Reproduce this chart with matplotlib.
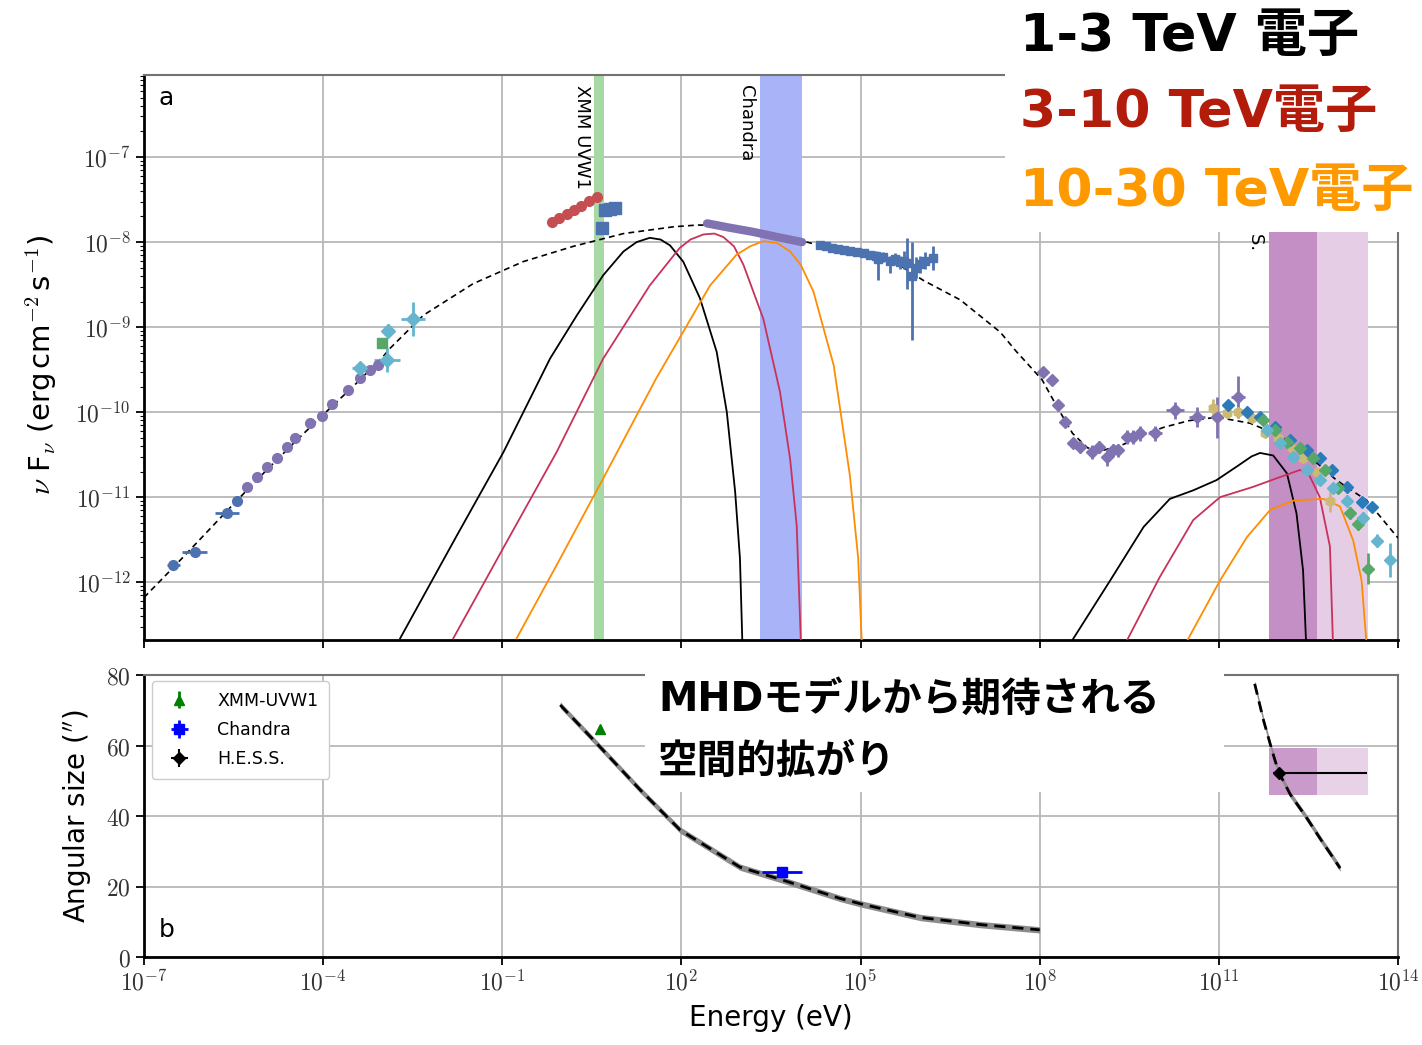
import numpy as np
import matplotlib.pyplot as plt
from matplotlib.patches import Rectangle
from matplotlib.ticker import FixedLocator, FuncFormatter, LogLocator, NullLocator

plt.rcParams["font.family"] = ["DejaVu Sans"]
plt.rcParams["mathtext.fontset"] = "cm"

# seaborn "deep" colours for the data sets
BLUE, GREEN, RED = "#4C72B0", "#55A868", "#C44E52"
PURPLE, YELLOW, CYAN = "#8172B2", "#CCB974", "#64B5CD"
DBLUE = "#2B7BBA"
E_COLORS = ["black", "#C8325A", "#FF8C00"]          # 1-3, 3-10, 10-30 TeV electrons
LABEL_COLORS = ["black", "#B31B0B", "#FF9900"]

# ---------------- panel a : values as log10(E/eV), log10(nuFnu) ----------------
model_logE = [-7.0, -6.5, -6.0, -5.5, -5.0, -4.5, -4.0, -3.5, -3.0, -2.88, -2.32, -1.49,
              -0.65, 0.19, 1.03, 1.87, 2.26, 2.6, 3.0, 3.5, 4.1, 4.32, 4.94, 5.49, 6.05, 6.67, 7.34,
              7.6, 8.04, 8.3, 8.55, 8.8, 9.06, 9.4, 9.8, 10.07, 10.5, 10.97, 11.52, 12.0,
              12.4, 12.97, 13.48, 14.0]
model_logF = [-12.18, -11.82, -11.45, -11.08, -10.72, -10.37, -10.03, -9.70, -9.35, -9.25, -8.86, -8.49,
              -8.23, -8.05, -7.90, -7.82, -7.80, -7.80, -7.86, -7.93, -8.00, -8.04, -8.12, -8.20, -8.45,
              -8.68, -9.06, -9.28, -9.62, -9.95, -10.25, -10.42, -10.45, -10.38, -10.25, -10.18, -10.10,
              -10.06, -10.13, -10.27, -10.45, -10.80, -11.04, -11.48]

sync_logE = [
    [-2.71, -1.76, -0.98, -0.20, 0.25, 0.69, 1.03, 1.25, 1.47, 1.65, 1.81, 2.03, 2.31, 2.59,
     2.76, 2.90, 2.98, 3.02],
    [-1.82, -0.93, -0.09, 0.69, 1.47, 1.97, 2.15, 2.37, 2.55, 2.70, 2.88, 3.04, 3.37, 3.65,
     3.82, 3.93, 4.0],
    [-0.76, -0.09, 0.69, 1.58, 2.48, 2.92, 3.15, 3.37, 3.6, 3.82, 4.0, 4.21, 4.55, 4.82,
     4.96, 5.02],
]
sync_logF = [
    [-12.66, -11.45, -10.47, -9.37, -8.86, -8.39, -8.11, -8.0, -7.95, -7.97, -8.04, -8.23, -8.66,
     -9.29, -10.0, -10.94, -11.72, -12.7],
    [-12.66, -11.53, -10.47, -9.37, -8.51, -8.07, -7.97, -7.91, -7.90, -7.94, -8.05, -8.27, -8.90,
     -9.76, -10.55, -11.33, -12.7],
    [-12.66, -11.80, -10.78, -9.60, -8.51, -8.15, -8.05, -7.99, -8.01, -8.11, -8.27, -8.58, -9.45,
     -10.74, -11.72, -12.7],
]
ic_logE = [
    [8.53, 9.18, 9.74, 10.18, 10.57, 10.96, 11.30, 11.55, 11.69, 11.91, 12.14, 12.30, 12.41, 12.46],
    [9.45, 10.01, 10.57, 11.02, 11.57, 11.96, 12.36, 12.50, 12.69, 12.86, 12.91],
    [10.46, 11.02, 11.47, 11.86, 12.25, 12.75, 13.03, 13.25, 13.39, 13.47],
]
ic_logF = [
    [-12.7, -11.98, -11.35, -11.02, -10.92, -10.80, -10.64, -10.52, -10.48, -10.51, -10.72, -11.19,
     -11.86, -12.7],
    [-12.7, -11.94, -11.27, -11.0, -10.88, -10.78, -10.68, -10.72, -11.0, -11.58, -12.7],
    [-12.7, -11.98, -11.47, -11.15, -11.04, -11.02, -11.11, -11.51, -11.98, -12.7],
]

radio_logE = [-6.51, -6.15, -5.61, -5.44]
radio_logF = [-11.80, -11.65, -11.19, -11.04]
radio_xerr = [0.11, 0.21, 0.2, 0.04]

ir_logE = [-5.28, -5.11, -4.94, -4.77, -4.61, -4.47, -4.22, -4.02, -3.85, -3.58, -3.38, -3.22, -3.08]
ir_logF = [-10.88, -10.76, -10.65, -10.54, -10.41, -10.31, -10.13, -10.04, -9.90, -9.74, -9.60, -9.51, -9.45]

opt_logE = [-3.38, -2.93, -2.91, -2.50]
opt_logF = [-9.48, -9.39, -9.04, -8.90]
opt_xerr = [0.14, 0.22, 0.04, 0.2]
opt_yerr = [0.04, 0.14, 0.08, 0.2]

nir_logE = [-3.01]
nir_logF = [-9.19]

uv_logE = [-0.17, -0.05, 0.08, 0.2, 0.32, 0.45, 0.59]
uv_logF = [-7.76, -7.72, -7.67, -7.62, -7.57, -7.52, -7.47]

uvw1_logE = [0.67, 0.72, 0.8, 0.89]
uvw1_logF = [-7.84, -7.62, -7.61, -7.60]

chandra_logE = [2.43, 2.8, 3.2, 3.6, 4.02]
chandra_logF = [-7.78, -7.83, -7.88, -7.94, -8.00]

xray_logE = [4.32, 4.42, 4.52, 4.62, 4.72, 4.82, 4.94, 5.05, 5.15, 5.25, 5.29, 5.38, 5.49,
             5.58, 5.66, 5.72, 5.78, 5.86, 5.93, 6.0, 6.08, 6.21]
xray_logF = [-8.04, -8.05, -8.07, -8.08, -8.09, -8.10, -8.12, -8.13, -8.15, -8.16, -8.20, -8.18, -8.22,
             -8.20, -8.24, -8.22, -8.25, -8.40, -8.30, -8.26, -8.22, -8.19]
xray_elo = [0.03, 0.03, 0.03, 0.03, 0.03, 0.03, 0.04, 0.04, 0.05, 0.05, 0.25, 0.06, 0.14,
            0.07, 0.08, 0.1, 0.3, 0.75, 0.12, 0.1, 0.1, 0.14]
xray_ehi = [0.03, 0.03, 0.03, 0.03, 0.03, 0.03, 0.04, 0.04, 0.05, 0.05, 0.05, 0.06, 0.06,
            0.07, 0.08, 0.12, 0.3, 0.4, 0.12, 0.1, 0.1, 0.14]

lat_logE = [8.06, 8.2, 8.31, 8.42, 8.56, 8.67, 8.87, 9.0, 9.12, 9.23, 9.31, 9.46, 9.56,
            9.68, 9.93, 10.27, 10.63, 10.97, 11.32]
lat_logF = [-9.53, -9.62, -9.92, -10.12, -10.36, -10.41, -10.47, -10.41, -10.53, -10.45, -10.45, -10.29, -10.29,
            -10.25, -10.25, -9.98, -10.06, -10.06, -9.82]
lat_xerr = [0.0, 0.0, 0.0, 0.0, 0.06, 0.06, 0.06, 0.06, 0.06, 0.06, 0.06, 0.08, 0.08,
            0.1, 0.12, 0.15, 0.13, 0.1, 0.12]
lat_yerr = [0.03, 0.03, 0.04, 0.04, 0.06, 0.07, 0.08, 0.07, 0.1, 0.08, 0.08, 0.08, 0.08,
            0.09, 0.09, 0.1, 0.12, 0.24, 0.25]

tan_logE = [10.9, 11.13, 11.32, 11.55, 11.77, 11.99, 12.22, 12.41, 12.64, 12.86]
tan_logF = [-9.95, -10.01, -10.0, -10.07, -10.24, -10.31, -10.42, -10.54, -10.71, -11.04]
tan_yerr = [0.1, 0.05, 0.04, 0.04, 0.04, 0.04, 0.04, 0.05, 0.05, 0.14]

hb_logE = [11.15, 11.47, 11.69, 11.94, 12.19, 12.47, 12.69, 12.89, 13.14, 13.39, 13.56]
hb_logF = [-9.92, -10.0, -10.06, -10.18, -10.33, -10.45, -10.54, -10.68, -10.88, -11.06, -11.12]

hg_logE = [11.74, 11.94, 12.14, 12.36, 12.58, 12.78, 13.0, 13.2, 13.33, 13.5]
hg_logF = [-10.09, -10.21, -10.35, -10.42, -10.54, -10.68, -10.89, -11.19, -11.31, -11.84]
hg_yerr = [0.03, 0.03, 0.03, 0.04, 0.04, 0.05, 0.06, 0.07, 0.08, 0.18]

hc_logE = [11.8, 12.02, 12.24, 12.47, 12.69, 12.91, 13.14, 13.41, 13.65, 13.87]
hc_logF = [-10.21, -10.36, -10.53, -10.68, -10.8, -10.89, -11.04, -11.24, -11.51, -11.74]
hc_yerr = [0.03, 0.03, 0.03, 0.04, 0.04, 0.05, 0.06, 0.07, 0.08, 0.2]

bands = {"uvw1": (0.54, 0.70), "chandra": (3.32, 4.02), "hess": (11.84, 12.64), "hess_ext": (12.64, 13.50)}

# ---------------- panel b : angular size (arcsec) ----------------
size_lo_logE = [-0.03, 0.52, 1.31, 1.98, 2.98, 3.7, 4.66, 5.02, 6.0, 7.0, 8.0]
size_lo = [71.5, 61.7, 47.4, 36.0, 25.5, 21.8, 16.6, 15.0, 11.2, 9.2, 7.7]
size_hi_logE = [11.6, 11.75, 11.9, 12.0, 12.2, 12.45, 12.7, 12.9, 13.03]
size_hi = [77.5, 67.0, 58.0, 52.5, 46.0, 40.0, 33.5, 28.5, 25.2]
size_halfwidth = 0.9

xmm_logE, xmm_size = [0.64], [64.8]
cxo_logE, cxo_size, cxo_lo, cxo_hi = [3.68], [24.1], [3.35], [4.02]
hess_logE, hess_size, hess_lo, hess_hi = [12.0], [52.2], [11.9], [13.48]
hess_box = (46.0, 59.3)


def dex(v):
    return 10.0 ** np.asarray(v, dtype=float)


def dex_err(logv, elo, ehi=None):
    v = dex(logv)
    ehi = elo if ehi is None else ehi
    return [v * (1 - dex(-np.asarray(elo))), v * (dex(ehi) - 1)]


W, H = 1422, 1045
fig = plt.figure(figsize=(W / 100, H / 100), dpi=100)
ax = fig.add_axes([144 / W, 1 - 640 / H, 1254 / W, 565 / H])
axb = fig.add_axes([144 / W, 1 - 957 / H, 1254 / W, 282 / H], sharex=ax)

for a in (ax, axb):
    a.set_axisbelow(True)
    a.grid(True, which="major", color="#b8b8b8", lw=1.3)
    for s in ("left", "bottom"):
        a.spines[s].set_linewidth(2.0)
        a.spines[s].set_color("black")
    for s in ("top", "right"):
        a.spines[s].set_linewidth(1.5)
        a.spines[s].set_color("0.45")
    a.tick_params(which="major", direction="out", length=6, width=1.3, labelsize=17,
                  labelcolor="#333333")
    a.tick_params(which="minor", direction="out", length=3, width=0.8)

# ---- panel a ----
ax.set_xscale("log")
ax.set_yscale("log")
ax.set_xlim(1e-7, 1e14)
ax.set_ylim(dex(-12.68), dex(-6.035))

band_cols = {"uvw1": "#A8D8A4", "chandra": "#A9B3F7", "hess": "#C38FC5", "hess_ext": "#E6CDE6"}
for key, (lo, hi) in bands.items():
    ax.axvspan(dex(lo), dex(hi), color=band_cols[key], lw=0, zorder=1)

txt_kw = dict(rotation=270, fontsize=13, ha="center", transform=ax.get_xaxis_transform(), zorder=4)
ax.text(dex(0.335), 0.982, "XMM UVW1", va="top", **txt_kw)
ax.text(dex(3.08), 0.982, "Chandra", va="top", **txt_kw)
ax.text(dex(11.59), 0.687, "H.E.S.S.", va="bottom", **txt_kw)

ax.plot(dex(model_logE), dex(model_logF), ls=(0, (3.5, 2.5)), color="black", lw=1.2, zorder=3)
for c, xs, ys in zip(E_COLORS, sync_logE, sync_logF):
    ax.plot(dex(xs), dex(ys), color=c, lw=1.3, zorder=3)
for c, xs, ys in zip(E_COLORS, ic_logE, ic_logF):
    ax.plot(dex(xs), dex(ys), color=c, lw=1.3, zorder=3)

eb = dict(ls="none", elinewidth=2, capsize=0, zorder=4)
ax.errorbar(dex(radio_logE), dex(radio_logF), xerr=dex_err(radio_logE, radio_xerr),
            fmt="o", ms=7, color=BLUE, **eb)
ax.errorbar(dex(ir_logE), dex(ir_logF), yerr=dex_err(ir_logF, [0.03] * len(ir_logF)),
            fmt="o", ms=7, color=PURPLE, **eb)
ax.errorbar(dex(opt_logE), dex(opt_logF), xerr=dex_err(opt_logE, opt_xerr),
            yerr=dex_err(opt_logF, opt_yerr), fmt="D", ms=7, color=CYAN, **eb)
ax.plot(dex(nir_logE), dex(nir_logF), "s", ms=7, color=GREEN, zorder=4)
ax.plot(dex(uv_logE), dex(uv_logF), "o", ms=7, color=RED, zorder=4)
ax.plot(dex(uvw1_logE), dex(uvw1_logF), "s", ms=8, color=BLUE, zorder=4)
ax.plot(dex(chandra_logE), dex(chandra_logF), color=PURPLE, lw=6, solid_capstyle="round", zorder=4)
ax.errorbar(dex(xray_logE), dex(xray_logF), yerr=dex_err(xray_logF, xray_elo, xray_ehi),
            fmt="s", ms=6, color=BLUE, **eb)
ax.errorbar(dex(lat_logE), dex(lat_logF), xerr=dex_err(lat_logE, lat_xerr),
            yerr=dex_err(lat_logF, lat_yerr), fmt="D", ms=6, color=PURPLE, **eb)
ax.errorbar(dex(tan_logE), dex(tan_logF), yerr=dex_err(tan_logF, tan_yerr),
            fmt="h", ms=7, color=YELLOW, **eb)
ax.errorbar(dex(hb_logE), dex(hb_logF), fmt="D", ms=6, color=DBLUE, **eb)
ax.errorbar(dex(hg_logE), dex(hg_logF), yerr=dex_err(hg_logF, hg_yerr),
            fmt="D", ms=6, color=GREEN, **eb)
ax.errorbar(dex(hc_logE), dex(hc_logF), yerr=dex_err(hc_logF, hc_yerr),
            fmt="D", ms=6, color=CYAN, **eb)

ax.xaxis.set_major_locator(FixedLocator(dex(np.arange(-7, 15, 3))))
ax.xaxis.set_minor_locator(NullLocator())
ax.yaxis.set_major_locator(FixedLocator(dex(np.arange(-12, -6))))
ax.yaxis.set_minor_locator(LogLocator(base=10, subs=np.arange(2, 10), numticks=30))
pow_fmt = FuncFormatter(lambda v, p: r"$10^{%d}$" % round(np.log10(v)))
ax.yaxis.set_major_formatter(pow_fmt)
ax.tick_params(labelbottom=False)
ax.set_ylabel(r"$\nu$ F$_\nu$ (erg$\,$cm$^{-2}\,$s$^{-1}$)", fontsize=21)
ax.yaxis.set_label_coords(-0.068, 0.487)
ax.text(0.018, 0.959, "a", transform=ax.transAxes, fontsize=18, ha="center", va="center")

# ---- panel b ----
axb.set_ylim(0, 80)
axb.set_yticks([0, 20, 40, 60, 80])
axb.yaxis.set_major_formatter(FuncFormatter(lambda v, p: r"$%d$" % v))
axb.xaxis.set_major_formatter(pow_fmt)
axb.xaxis.set_minor_locator(NullLocator())

axb.fill_between(dex(bands["hess"]), *hess_box, color=band_cols["hess"], alpha=0.9, lw=0, zorder=1)
axb.fill_between(dex(bands["hess_ext"]), *hess_box, color=band_cols["hess_ext"], alpha=0.9, lw=0, zorder=1)

for xs, ys in ((size_lo_logE, size_lo), (size_hi_logE, size_hi)):
    ys = np.asarray(ys)
    axb.fill_between(dex(xs), ys - size_halfwidth, ys + size_halfwidth, color="0.55", lw=0, zorder=3)
    axb.plot(dex(xs), ys, color="black", lw=2.0, ls=(0, (4, 2.5)), zorder=3)

h_xmm = axb.errorbar(dex(xmm_logE), xmm_size, yerr=0.5, fmt="^", ms=7, color="green", **eb)
h_cxo = axb.errorbar(dex(cxo_logE), cxo_size,
                     xerr=[dex(cxo_logE) - dex(cxo_lo), dex(cxo_hi) - dex(cxo_logE)],
                     yerr=1.0, fmt="s", ms=7, color="blue", **eb)
h_hess = axb.errorbar(dex(hess_logE), hess_size,
                      xerr=[dex(hess_logE) - dex(hess_lo), dex(hess_hi) - dex(hess_logE)],
                      yerr=1.5, fmt="D", ms=6, color="black", ls="none", elinewidth=1.5,
                      capsize=0, zorder=4)
axb.legend([h_xmm, h_cxo, h_hess], ["XMM-UVW1", "Chandra", "H.E.S.S."], loc="upper left",
           bbox_to_anchor=(0.006, 0.978), borderaxespad=0, fontsize=12.5, framealpha=1,
           edgecolor="#cccccc", handletextpad=1.2, borderpad=0.6, labelspacing=0.65)

axb.set_ylabel(r"Angular size ($''$)", fontsize=20)
axb.yaxis.set_label_coords(-0.041, 0.5)
axb.set_xlabel("Energy (eV)", fontsize=20)
axb.xaxis.set_label_coords(0.5, -0.165)
axb.text(0.018, 0.096, "b", transform=axb.transAxes, fontsize=18, ha="center", va="center")

# ---- white cover boxes with Japanese captions ----
for x0, y0, x1, y1 in [(1005, 0, 1422, 232), (645, 671, 1224, 792)]:
    fig.add_artist(Rectangle((x0 / W, 1 - y1 / H), (x1 - x0) / W, (y1 - y0) / H,
                             transform=fig.transFigure, facecolor="white", edgecolor="none", zorder=5))

jp = ["DejaVu Sans", "Noto Sans CJK JP"]
band_labels = ["1-3 TeV 電子", "3-10 TeV電子", "10-30 TeV電子"]
for lab, col, yc in zip(band_labels, LABEL_COLORS, (37, 113, 192)):
    fig.text(1020 / W, 1 - yc / H, lab, color=col, fontsize=37.5, family=jp, weight="bold",
             va="center", ha="left", zorder=6)
fig.text(658 / W, 1 - 700 / H, "MHDモデルから期待される", fontsize=28.5, family=jp, weight="bold",
         va="center", ha="left", zorder=6)
fig.text(658 / W, 1 - 762 / H, "空間的拡がり", fontsize=28.5, family=jp, weight="bold",
         va="center", ha="left", zorder=6)

fig.savefig("out.png", dpi=100)
